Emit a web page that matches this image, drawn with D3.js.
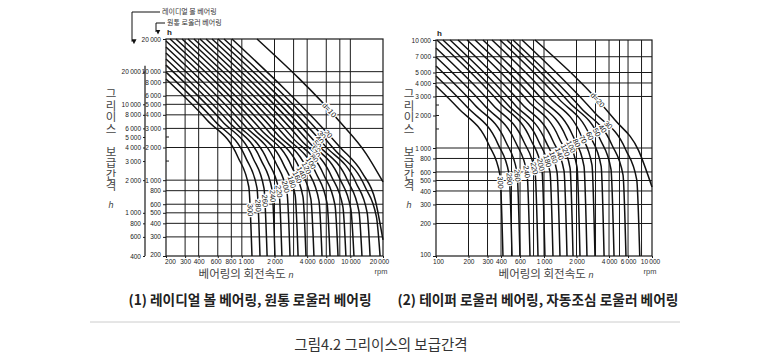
<!DOCTYPE html>
<html><head><meta charset="utf-8">
<script src="https://cdn.jsdelivr.net/npm/d3@7"></script>
<style>body{margin:0;background:#fff}svg{display:block}</style>
</head><body><svg id="c" width="770" height="360"></svg>
<script>
// ---------- data ----------
const leftXTicks = [200,300,400,600,800,1000,2000,4000,6000,10000,20000];
const leftXGrid = [300,400,600,800,1000,2000,3000,4000,6000,8000,10000];
const leftYTicks = [20000,10000,8000,6000,5000,4000,3000,2000,1000,800,600,500,400,300,200];
const leftYGrid = [10000,8000,6000,5000,4000,3000,2000,1000,800,600,500,400,300];
const leftYMinor = [2500,1500];
const leftOuterTicks = [20000,10000,8000,6000,5000,4000,3000,2000,1000,800,600,400];
const leftDiameters = ["d=10","20","30","40","50","60","70","80","100","120","140","160","180","200","220","240","260","280","300"];
const leftCurves = [
 [[1380,20000],[8000,3450],[14000,1750],[20000,962]],
 [[811,20000],[8000,2025],[13000,1150],[17000,650],[20000,281]],
 [[685,20000],[7100,1930],[13700,865],[17400,458],[18800,200]],
 [[603,20000],[5850,2070],[11300,943],[14300,499],[15200,200]],
 [[531,20000],[4920,2150],[9480,981],[12000,519],[12800,200]],
 [[468,20000],[4150,2250],[8000,1027],[10100,543],[10800,200]],
 [[411,20000],[3500,2350],[6740,1070],[8540,566],[9100,200]],
 [[362,20000],[2960,2440],[5700,1114],[7220,589],[7700,200]],
 [[319,20000],[2500,2550],[4820,1163],[6100,615],[6500,200]],
 [[281,20000],[2110,2670],[4060,1215],[5140,643],[5480,200]],
 [[247,20000],[1780,2780],[3420,1267],[4330,670],[4620,200]],
 [[218,20000],[1500,2910],[2890,1325],[3660,701],[3900,200]],
 [[200,19150],[1270,3020],[2440,1375],[3100,728],[3300,200]],
 [[200,16900],[1070,3160],[2060,1441],[2610,762],[2780,200]],
 [[200,14850],[900,3300],[1730,1504],[2200,796],[2340,200]],
 [[200,13100],[777,3370],[1500,1537],[1900,813],[2020,200]],
 [[200,11500],[658,3500],[1270,1594],[1600,843],[1710,200]],
 [[200,9900],[565,3500],[1090,1596],[1380,845],[1470,200]],
 [[200,8550],[477,3585],[919,1634],[1160,865],[1240,200]]
];
const leftLabelHours = [4434,2663,2608,2361,2137,1932,1750,1584,1434,1297,1174,1063,962,871,788,713,645,584,529];

const rightXTicks = [100,200,300,400,600,1000,2000,4000,6000,10000];
const rightXGrid = [200,300,400,500,600,800,1000,2000,3000,4000,5000,6000,8000];
const rightYTicks = [10000,7000,5000,4000,3000,2000,1000,800,600,500,400,300,200,100];
const rightYGrid = [7000,5000,4000,3000,1000,800,600,500,400,300,200];
const rightYMinor = [2500,2000,1500];
const rightDiameters = ["d=20","30","40","50","60","70","80","100","120","140","160","180","200","220","240","260","280","300"];
const rightCurves = [
 [[826,10000],[4500,1835],[7500,950],[10000,435]],
 [[626,10000],[2950,2120],[5710,964],[7220,509],[7700,100]],
 [[516,10000],[2200,2346],[4260,1066],[5390,563],[5740,100]],
 [[454,10000],[1700,2663],[3300,1210],[4170,638],[4450,100]],
 [[391,10000],[1380,2835],[2670,1288],[3380,680],[3600,100]],
 [[330,10000],[1136,2905],[2200,1320],[2780,697],[2965,100]],
 [[272,10000],[958,2840],[1855,1290],[2345,681],[2500,100]],
 [[230,10000],[825,2790],[1600,1266],[2020,668],[2154,100]],
 [[194,10000],[711,2730],[1378,1239],[1742,654],[1857,100]],
 [[160,10000],[626,2556],[1211,1162],[1532,613],[1633,100]],
 [[135,10000],[539,2505],[1043,1139],[1319,601],[1406,100]],
 [[116,10000],[464,2500],[898,1136],[1136,599],[1211,100]],
 [[102,10000],[391,2609],[757,1186],[957,626],[1020,100]],
 [[100,8430],[337,2502],[653,1136],[826,600],[880,100]],
 [[100,6960],[284,2449],[550,1112],[696,587],[742,100]],
 [[100,5740],[229,2502],[444,1136],[562,600],[599,100]],
 [[100,4640],[194,2392],[375,1087],[475,574],[506,100]],
 [[100,3750],[160,2344],[309,1066],[391,563],[417,100]]
];
const rightLabelHours = [2783,1634,1513,1400,1297,1202,1112,1030,954,883,818,758,702,650,602,558,517,478];

const texts = {
  yTitle: "그리이스 보급간격",
  yUnit: "h",
  xTitle: "베어링의 회전속도",
  xVar: "n",
  rpm: "rpm",
  cap1: "(1) 레이디얼 볼 베어링, 원통 로울러 베어링",
  cap2: "(2) 테이퍼 로울러 베어링, 자동조심 로울러 베어링",
  ann1: "레이디얼 볼 베어링",
  ann2: "원통 로울러 베어링",
  fig: "그림4.2 그리이스의 보급간격"
};

// ---------- drawing ----------
const svg = d3.select('#c');
const KR = "'Noto Sans CJK KR','Noto Sans',sans-serif";
const NUM = "'Liberation Sans','DejaVu Sans',sans-serif";
const fmt = v => v >= 1000 ? (v/1000) + "\u2009000" : String(v);
const ink = "#1a1a1a";

function drawPanel(cfg){
  const g = svg.append('g');
  const x = cfg.x, y = cfg.y;
  const [x0,x1] = x.range(), [y0,y1] = y.range(); // y0 bottom
  // grid
  g.append('g').selectAll('line').data(cfg.xGrid).join('line')
    .attr('x1',d=>x(d)).attr('x2',d=>x(d)).attr('y1',y1).attr('y2',y0)
    .attr('stroke',ink).attr('stroke-width',1);
  g.append('g').selectAll('line').data(cfg.yGrid).join('line')
    .attr('y1',d=>y(d)).attr('y2',d=>y(d)).attr('x1',x0).attr('x2',x1)
    .attr('stroke',ink).attr('stroke-width',1);
  g.append('g').selectAll('line').data(cfg.yMinor).join('line')
    .attr('y1',d=>y(d)).attr('y2',d=>y(d)).attr('x1',x0).attr('x2',x0+3)
    .attr('stroke',ink).attr('stroke-width',1);
  // frame
  g.append('rect').attr('x',x0).attr('y',y1).attr('width',x1-x0).attr('height',y0-y1)
    .attr('fill','none').attr('stroke',ink).attr('stroke-width',1.2);
  // axes
  const ax = g.append('g').attr('transform',`translate(0,${y0})`)
    .call(d3.axisBottom(x).tickValues(cfg.xTicks).tickFormat(fmt).tickSize(2).tickPadding(1));
  const ay = g.append('g').attr('transform',`translate(${x0},0)`)
    .call(d3.axisLeft(y).tickValues(cfg.yTicks).tickFormat(fmt).tickSize(3).tickPadding(2));
  [ax,ay].forEach(a=>{
    a.select('.domain').remove();
    a.selectAll('text').attr('font-family',NUM).attr('font-size',6.5).attr('fill','#222');
    a.selectAll('line').attr('stroke',ink);
  });
  ax.selectAll('.tick text').attr('dx',d=>cfg.xNudge[d]||0);
  ay.selectAll('.tick text').attr('dy',d=>cfg.yNudge[d]!==undefined?cfg.yNudge[d]:'0.32em');
  // curves
  const line = d3.line().x(d=>x(d[0])).y(d=>y(d[1])).curve(d3.curveMonotoneX);
  const paths = g.append('g').selectAll('path').data(cfg.curves).join('path')
    .attr('d',line).attr('fill','none').attr('stroke','#111').attr('stroke-width',1.5);
  // labels along curves
  const lg = g.append('g');
  paths.each(function(c,i){
    const node = this, L = node.getTotalLength(), target = y(cfg.labelH[i]);
    let lo=0, hi=L;
    for(let k=0;k<40;k++){const m=(lo+hi)/2; if(node.getPointAtLength(m).y<target) lo=m; else hi=m;}
    const p = node.getPointAtLength(lo);
    const a = node.getPointAtLength(Math.max(0,lo-4)), b = node.getPointAtLength(Math.min(L,lo+4));
    const ang = Math.atan2(b.y-a.y,b.x-a.x)*180/Math.PI;
    lg.append('text').attr('transform',`translate(${p.x},${p.y}) rotate(${ang})`)
      .attr('text-anchor','middle').attr('dy','0.35em')
      .attr('font-family',NUM).attr('font-size',7.5).attr('fill','#111')
      .attr('stroke','#fff').attr('stroke-width',2.5).attr('paint-order','stroke')
      .text(cfg.labels[i]);
  });
  // unit h at top
  g.append('text').attr('x',x0+1).attr('y',y1-4).attr('font-family',NUM).attr('font-size',8)
    .attr('font-weight','bold').attr('fill','#222').text(texts.yUnit);
  // y title: vertical writing, upright glyphs
  g.append('text').attr('x',cfg.titleX).attr('y',cfg.titleY)
    .style('writing-mode','vertical-rl').style('text-orientation','upright')
    .attr('font-family',KR).attr('font-size',11.5).attr('fill','#444')
    .text(texts.yTitle);
  g.append('text').attr('x',cfg.titleX).attr('y',cfg.titleY+120).attr('text-anchor','middle')
    .attr('font-family',NUM).attr('font-size',9).attr('font-style','italic').attr('fill','#444')
    .text(texts.yUnit);
  // x title
  const xt = g.append('text').attr('x',cfg.xTitleX).attr('y',y0+22).attr('text-anchor','middle')
    .attr('font-family',KR).attr('font-size',11.5).attr('fill','#444');
  xt.append('tspan').text(texts.xTitle + " ");
  xt.append('tspan').attr('font-family',NUM).attr('font-style','italic').attr('font-size',9).text(texts.xVar);
  g.append('text').attr('x',x1-2).attr('y',y0+18).attr('text-anchor','middle')
    .attr('font-family',NUM).attr('font-size',7.5).attr('fill','#444').text(texts.rpm);
  return g;
}

// Left panel
const xL = d3.scaleLog().domain([200,20000]).range([166,383]);
const yL = d3.scaleLog().domain([200,20000]).range([256,39]);
const gL = drawPanel({x:xL,y:yL,xTicks:leftXTicks,xGrid:leftXGrid,yTicks:leftYTicks,yGrid:leftYGrid,
  yMinor:leftYMinor,curves:leftCurves,labels:leftDiameters,labelH:leftLabelHours,
  titleX:111,titleY:88,xTitleX:246,xNudge:{200:4,600:-2,800:-1,1000:4,20000:-4},yNudge:{200:'0.1em'}});
// outer (second) scale for left panel
const yLo = d3.scaleLog().domain([400,40000]).range([256,39]);
const axO = gL.append('g').attr('transform','translate(145,0)')
  .call(d3.axisLeft(yLo).tickValues(leftOuterTicks).tickFormat(fmt).tickSize(2).tickPadding(2));
axO.select('.domain').remove();
axO.selectAll('text').attr('font-family',NUM).attr('font-size',6.5).attr('fill','#222');
axO.selectAll('line').attr('stroke',ink);
gL.append('line').attr('x1',145).attr('x2',145).attr('y1',yLo(20000)-6).attr('y2',yLo(400))
  .attr('stroke',ink).attr('stroke-width',1.2);

// annotations with arrows
const defs = svg.append('defs');
defs.append('marker').attr('id','ar').attr('viewBox','0 0 10 10').attr('refX',5).attr('refY',9)
  .attr('markerWidth',5).attr('markerHeight',5).attr('orient','auto')
  .append('path').attr('d','M0,0 L10,5 L0,10 Z').attr('fill','#111');
svg.append('path').attr('d',`M160,12 H132 V${yLo(20000)-30}`).attr('fill','none').attr('stroke','#111')
  .attr('stroke-width',1).attr('marker-end','url(#ar)');
svg.append('text').attr('x',162).attr('y',12).attr('dy','0.35em').attr('font-family',KR)
  .attr('font-size',7).attr('fill','#333').text(texts.ann1);
svg.append('path').attr('d',`M165,23 H156 V${yL(20000)-7}`).attr('fill','none').attr('stroke','#111')
  .attr('stroke-width',1).attr('marker-end','url(#ar)');
svg.append('text').attr('x',167).attr('y',23).attr('dy','0.35em').attr('font-family',KR)
  .attr('font-size',7).attr('fill','#333').text(texts.ann2);

// Right panel
const xR = d3.scaleLog().domain([100,10000]).range([436,652]);
const yR = d3.scaleLog().domain([100,10000]).range([256,40]);
drawPanel({x:xR,y:yR,xTicks:rightXTicks,xGrid:rightXGrid,yTicks:rightYTicks,yGrid:rightYGrid,
  yMinor:rightYMinor,curves:rightCurves,labels:rightDiameters,labelH:rightLabelHours,
  titleX:409,titleY:88,xTitleX:546,xNudge:{100:2,10000:-2},yNudge:{100:'0.05em'}});

// captions
svg.append('text').attr('x',250).attr('y',305).attr('text-anchor','middle').attr('font-family',KR)
  .attr('font-size',13.7).attr('font-weight','bold').attr('fill','#222').text(texts.cap1);
svg.append('text').attr('x',538).attr('y',305).attr('text-anchor','middle').attr('font-family',KR)
  .attr('font-size',13.7).attr('font-weight','bold').attr('fill','#222').text(texts.cap2);
svg.append('line').attr('x1',90).attr('x2',680).attr('y1',322).attr('y2',322)
  .attr('stroke','#ccc').attr('stroke-width',1);
svg.append('text').attr('x',381).attr('y',350).attr('text-anchor','middle').attr('font-family',KR)
  .attr('font-size',14.5).attr('fill','#333').text(texts.fig);
</script></body></html>
